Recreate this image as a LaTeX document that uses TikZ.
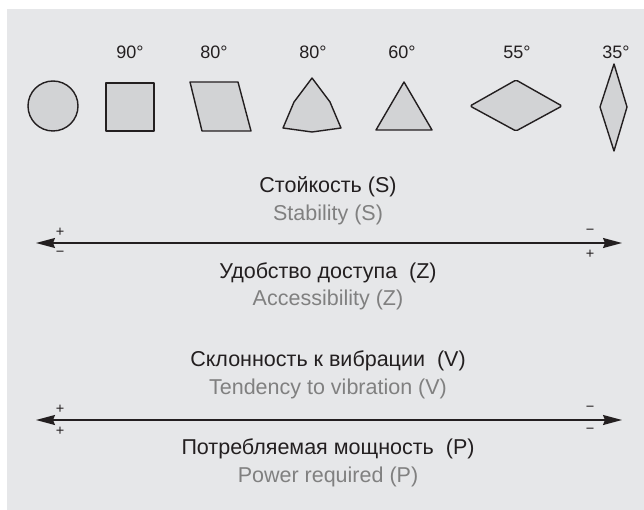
\documentclass[tikz,border=0pt]{standalone}
\usepackage{fontspec}
\setmainfont{Liberation Sans}
\usetikzlibrary{arrows.meta}
\definecolor{panelgray}{HTML}{E6E7E9}
\definecolor{shapegray}{HTML}{D2D3D5}
\definecolor{inkblack}{HTML}{231F20}
\definecolor{labelgray}{HTML}{808080}

\begin{document}
\begin{tikzpicture}[x=1pt, y=-1pt,
    profile/.style={draw=inkblack, fill=shapegray, line width=1.4pt, line join=round},
    deglabel/.style={font=\fontsize{18}{20}\selectfont, text=inkblack, inner sep=0pt},
    rulabel/.style={font=\fontsize{21.5}{24}\selectfont, text=inkblack, inner sep=0pt},
    enlabel/.style={font=\fontsize{21.5}{24}\selectfont, text=labelgray, inner sep=0pt},
    signlbl/.style={font=\fontsize{14.5}{16}\selectfont, text=inkblack, inner sep=0pt},
    scaleline/.style={{Stealth[length=19pt, width=10pt, inset=2pt]}-{Stealth[length=19pt, width=10pt, inset=2pt]}, draw=inkblack, line width=1.4pt}
]
    \useasboundingbox (0,0) rectangle (644,510);
    \fill[panelgray] (7,9) rectangle (644,510);

    \node[deglabel] (d90) at (130,52) {90°};
    \node[deglabel] (d80a) at (214,52) {80°};
    \node[deglabel] (d80b) at (313,52) {80°};
    \node[deglabel] (d60) at (402,52) {60°};
    \node[deglabel] (d55) at (517,52) {55°};
    \node[deglabel] (d35) at (616,52) {35°};

    \draw[profile] (53,106) circle[radius=25];
    \draw[profile] (106,83) rectangle (154,131);
    \draw[profile] (190,82) -- (238,82) -- (251,131) -- (202,131) -- cycle;
    \draw[profile] (312,78) -- (330,102) -- (341,128) -- (312,132) -- (283,128) -- (294,102) -- cycle;
    \draw[profile] (404,82) -- (432,130) -- (376,130) -- cycle;
    \draw[profile, rounded corners=1.5pt] (470,106) -- (516,80) -- (562,106) -- (516,131) -- cycle;
    \draw[profile] (614,64) -- (627,107) -- (614,151) -- (600,107) -- cycle;

    \node[rulabel] (stab) at (328,187) {Стойкость (S)};
    \node[enlabel] (stabEn) at (328,215) {Stability (S)};
    \coordinate (sL) at (36,243);
    \coordinate (sR) at (622,243);
    \draw[scaleline] (sL) -- (sR);
    \node[signlbl] (sLup) at (60,232) {+};
    \node[signlbl] (sLdn) at (60,254) {−};
    \node[signlbl] (sRup) at (590,232) {−};
    \node[signlbl] (sRdn) at (590,254) {+};
    \node[rulabel] (acc) at (328,273) {Удобство доступа~ (Z)};
    \node[enlabel] (accEn) at (328,300) {Accessibility (Z)};

    \node[rulabel] (vib) at (328,361) {Склонность к вибрации~ (V)};
    \node[enlabel] (vibEn) at (328,389) {Tendency to vibration (V)};
    \coordinate (pL) at (36,420);
    \coordinate (pR) at (622,420);
    \draw[scaleline] (pL) -- (pR);
    \node[signlbl] (pLup) at (60,409) {+};
    \node[signlbl] (pLdn) at (60,431) {+};
    \node[signlbl] (pRup) at (590,409) {−};
    \node[signlbl] (pRdn) at (590,431) {−};
    \node[rulabel] (pow) at (328,449) {Потребляемая мощность~ (P)};
    \node[enlabel] (powEn) at (328,477) {Power required (P)};
\end{tikzpicture}
\end{document}
